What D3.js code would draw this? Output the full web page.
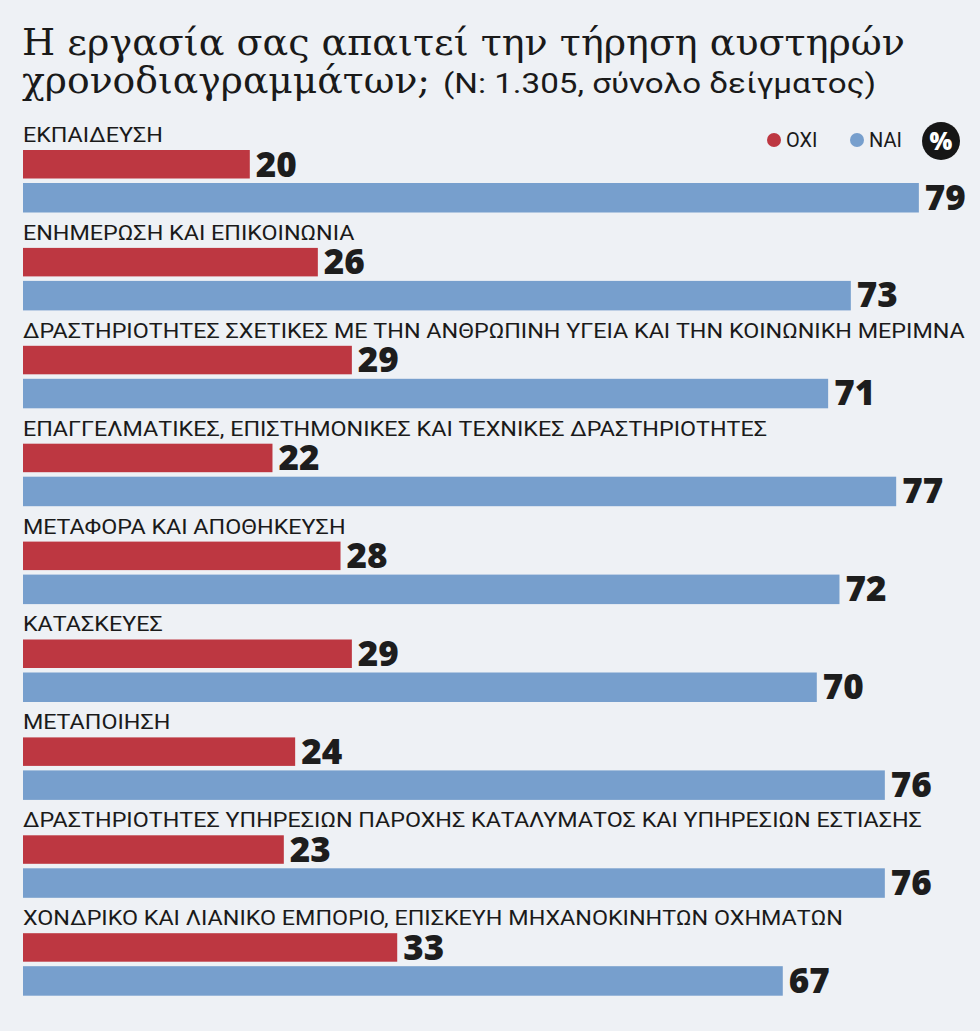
<!DOCTYPE html>
<html lang="el">
<head>
<meta charset="UTF-8">
<title>Χρονοδιαγράμματα</title>
<script src="https://d3js.org/d3.v7.min.js"></script>
<style>
  body { margin: 0; background: #eef1f5; }
  svg { display: block; }
  .cat { font-family: Roboto, sans-serif; font-size: 20px; fill: #1a1a1a; }
  .val { font-family: "Open Sans", sans-serif; font-weight: 800; font-size: 35px; fill: #1d1d1d; }
  .title { font-family: "DejaVu Serif", serif; fill: #1a1a1a; }
  .sub { font-family: Roboto, sans-serif; fill: #1a1a1a; }
</style>
</head>
<body>
<svg id="chart"></svg>
<script>
const W = 980, H = 1031;

const categories = [
  "ΕΚΠΑΙΔΕΥΣΗ",
  "ΕΝΗΜΕΡΩΣΗ ΚΑΙ ΕΠΙΚΟΙΝΩΝΙΑ",
  "ΔΡΑΣΤΗΡΙΟΤΗΤΕΣ ΣΧΕΤΙΚΕΣ ΜΕ ΤΗΝ ΑΝΘΡΩΠΙΝΗ ΥΓΕΙΑ ΚΑΙ ΤΗΝ ΚΟΙΝΩΝΙΚΗ ΜΕΡΙΜΝΑ",
  "ΕΠΑΓΓΕΛΜΑΤΙΚΕΣ, ΕΠΙΣΤΗΜΟΝΙΚΕΣ ΚΑΙ ΤΕΧΝΙΚΕΣ ΔΡΑΣΤΗΡΙΟΤΗΤΕΣ",
  "ΜΕΤΑΦΟΡΑ ΚΑΙ ΑΠΟΘΗΚΕΥΣΗ",
  "ΚΑΤΑΣΚΕΥΕΣ",
  "ΜΕΤΑΠΟΙΗΣΗ",
  "ΔΡΑΣΤΗΡΙΟΤΗΤΕΣ ΥΠΗΡΕΣΙΩΝ ΠΑΡΟΧΗΣ ΚΑΤΑΛΥΜΑΤΟΣ ΚΑΙ ΥΠΗΡΕΣΙΩΝ ΕΣΤΙΑΣΗΣ",
  "ΧΟΝΔΡΙΚΟ ΚΑΙ ΛΙΑΝΙΚΟ ΕΜΠΟΡΙΟ, ΕΠΙΣΚΕΥΗ ΜΗΧΑΝΟΚΙΝΗΤΩΝ ΟΧΗΜΑΤΩΝ"
];
const oxi = [20, 26, 29, 22, 28, 29, 24, 23, 33];
const nai = [79, 73, 71, 77, 72, 70, 76, 76, 67];
const seriesNames = ["ΟΧΙ", "ΝΑΙ"];
const seriesColors = ["#bd3741", "#779fcd"];

const svg = d3.select("#chart")
  .attr("width", W)
  .attr("height", H)
  .attr("viewBox", `0 0 ${W} ${H}`);

svg.append("rect").attr("width", W).attr("height", H).attr("fill", "#eef1f5");

// τίτλος
svg.append("text").attr("class", "title")
  .attr("x", 22).attr("y", 55).attr("font-size", 37)
  .attr("textLength", 883).attr("lengthAdjust", "spacingAndGlyphs")
  .text("Η εργασία σας απαιτεί την τήρηση αυστηρών");
svg.append("text").attr("class", "title")
  .attr("x", 22).attr("y", 93).attr("font-size", 37)
  .attr("textLength", 408).attr("lengthAdjust", "spacingAndGlyphs")
  .text("χρονοδιαγραμμάτων;");
svg.append("text").attr("class", "sub")
  .attr("x", 443).attr("y", 93).attr("font-size", 28)
  .attr("textLength", 433).attr("lengthAdjust", "spacingAndGlyphs")
  .text("(N: 1.305, σύνολο δείγματος)");

// κλίμακες
const x = d3.scaleLinear().domain([0, 100]).range([23, 23 + 1134]);
const y = d3.scaleBand().domain(categories).range([120, 120 + 9 * 97.9]);

const data = categories.map((c, i) => ({ cat: c, oxi: oxi[i], nai: nai[i] }));

const g = svg.append("g");
const grp = g.selectAll("g.grp").data(data).join("g")
  .attr("class", "grp")
  .attr("transform", d => `translate(0,${y(d.cat)})`);

const labels = grp.append("text").attr("class", "cat")
  .attr("x", 23).attr("y", 22)
  .text(d => d.cat);

// στενεύουμε τις ετικέτες ώστε η μεγαλύτερη να φτάνει ως τα 965px
const maxLen = d3.max(labels.nodes(), n => n.getComputedTextLength());
const k = 942 / maxLen;
labels.attr("transform", `translate(23,0) scale(${k},1) translate(-23,0)`);

const bars = [
  { key: "oxi", top: 30, h: 28.5, color: seriesColors[0] },
  { key: "nai", top: 63, h: 29.5, color: seriesColors[1] }
];

bars.forEach(b => {
  grp.append("rect")
    .attr("x", x(0))
    .attr("y", b.top)
    .attr("width", d => x(d[b.key]) - x(0))
    .attr("height", b.h)
    .attr("fill", b.color);
  grp.append("text").attr("class", "val")
    .attr("x", d => x(d[b.key]) + 6)
    .attr("y", b.top + 26.5)
    .text(d => d[b.key]);
});

// υπόμνημα
const legend = svg.append("g");
const legX = [774, 857];
seriesNames.forEach((s, i) => {
  legend.append("circle").attr("cx", legX[i]).attr("cy", 140).attr("r", 7).attr("fill", seriesColors[i]);
  legend.append("text")
    .attr("x", legX[i] + 12).attr("y", 147)
    .attr("font-family", "Roboto, sans-serif").attr("font-size", 20).attr("fill", "#1a1a1a")
    .text(s);
});
legend.append("circle").attr("cx", 941).attr("cy", 141).attr("r", 19).attr("fill", "#161616");
legend.append("text")
  .attr("x", 941).attr("y", 150).attr("text-anchor", "middle")
  .attr("font-family", "Open Sans, sans-serif").attr("font-weight", 800).attr("font-size", 24)
  .attr("fill", "#fff")
  .text("%");
</script>
</body>
</html>
